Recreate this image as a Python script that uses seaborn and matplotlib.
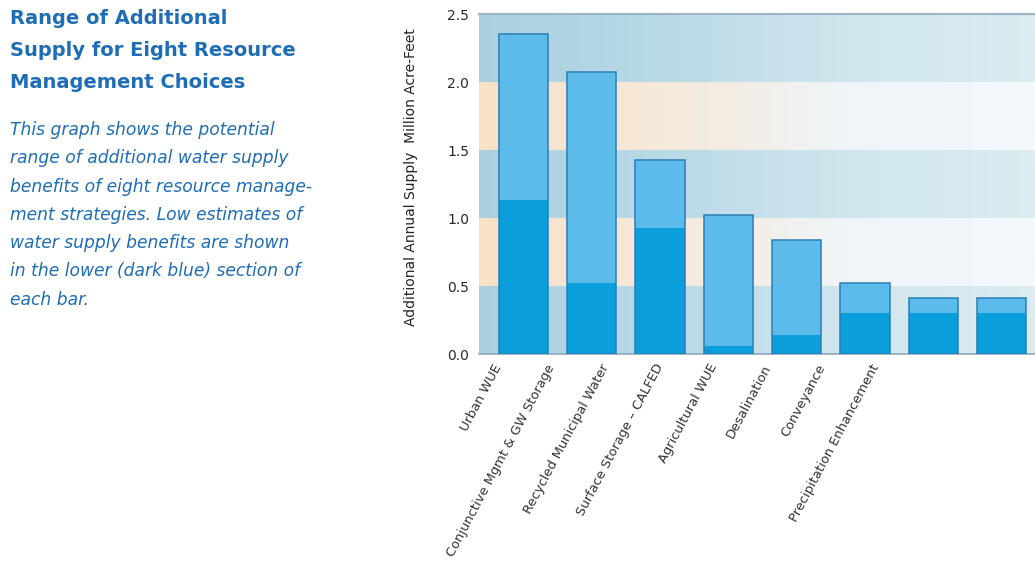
import numpy as np
import pandas as pd
import matplotlib
matplotlib.use("Agg")
import matplotlib.pyplot as plt
from matplotlib.colors import LinearSegmentedColormap
import seaborn as sns

# Resource management strategies and their supply range (million acre-feet/yr)
strategies = [
    "Urban WUE",
    "Conjunctive Mgmt & GW Storage",
    "Recycled Municipal Water",
    "Surface Storage \u2013 CALFED",
    "Agricultural WUE",
    "Desalination",
    "Conveyance",
    "Precipitation Enhancement",
]
low_estimate = [1.13, 0.52, 0.93, 0.06, 0.14, 0.30, 0.30, 0.30]
high_estimate = [2.35, 2.07, 1.43, 1.02, 0.84, 0.52, 0.41, 0.41]
y_ticks = [0.0, 0.5, 1.0, 1.5, 2.0, 2.5]

title_lines = ["Range of Additional", "Supply for Eight Resource", "Management Choices"]
body_lines = [
    "This graph shows the potential",
    "range of additional water supply",
    "benefits of eight resource manage-",
    "ment strategies. Low estimates of",
    "water supply benefits are shown",
    "in the lower (dark blue) section of",
    "each bar.",
]

df = pd.DataFrame({"strategy": strategies, "low": low_estimate, "high": high_estimate})

sns.set_theme(style="white")
plt.rcParams["font.family"] = ["DejaVu Sans"]

W, H = 1035, 567
fig = plt.figure(figsize=(W / 100, H / 100), dpi=100)
fig.patch.set_facecolor("white")

ax = fig.add_axes([479 / W, 1 - 354 / H, 1 - 479 / W, 340 / H])

XMIN, XMAX = -0.65, 7.49
YMAX = y_ticks[-1]

# Alternating horizontal bands that fade toward the right
blue_cmap = LinearSegmentedColormap.from_list(
    "blueband", ["#aad0e0", "#b9d9e6", "#d0e6ee", "#dcecf1"])
peach_cmap = LinearSegmentedColormap.from_list(
    "peachband", ["#f8e1c8", "#f6e9da", "#f0f5f8", "#f3f8fb"])
grad = np.linspace(0, 1, 256).reshape(1, -1)
for i in range(len(y_ticks) - 1):
    cmap = blue_cmap if i % 2 == 0 else peach_cmap
    ax.imshow(grad, cmap=cmap, aspect="auto", interpolation="bilinear",
              extent=[XMIN, XMAX, y_ticks[i], y_ticks[i + 1]], zorder=0)

light = "#5cbbeb"
dark = "#0a9edb"
edge = "#2b7db8"
bar_w = 0.72

sns.barplot(data=df, x="strategy", y="high", color=light, saturation=1,
            width=bar_w, linewidth=0, ax=ax, zorder=2)
sns.barplot(data=df, x="strategy", y="low", color=dark, saturation=1,
            width=bar_w, linewidth=0, ax=ax, zorder=3)
sns.barplot(data=df, x="strategy", y="high", color=edge, saturation=1,
            width=bar_w, fill=False, linewidth=1.1, ax=ax, zorder=4)

ax.set_xlim(XMIN, XMAX)
ax.set_ylim(0, YMAX)
ax.set_yticks(y_ticks)
ax.set_yticklabels([f"{v:.1f}" for v in y_ticks], fontsize=10,
                   color="#2a2a2a")
ax.tick_params(axis="y", length=0, pad=7)
ax.tick_params(axis="x", length=0)
ax.set_xticks(range(len(strategies)))
ax.set_xticklabels([])
ax.set_xlabel("")
ax.set_ylabel("Additional Annual Supply  Million Acre-Feet", fontsize=10,
              color="#222222")
ax.yaxis.set_label_coords(-0.11, 0.52)

for side in ["left", "right"]:
    ax.spines[side].set_visible(False)
ax.spines["top"].set_color("#9db4c6")
ax.spines["top"].set_linewidth(1.5)
ax.spines["bottom"].set_color("#8ea9bd")
ax.spines["bottom"].set_linewidth(1.2)

# Category labels, slanted below the baseline
for i, name in enumerate(strategies):
    ax.text(i * 0.79 - 0.37, -0.08, name, rotation=62, rotation_mode="anchor",
            ha="right", va="center", fontsize=9.4, color="#333333",
            transform=ax.transData, clip_on=False)

# Heading and description on the left
blue_text = "#1e6db5"
for k, line in enumerate(title_lines):
    fig.text(10 / W, 1 - (18 + 32 * k) / H, line, fontsize=14,
             fontweight="bold", color=blue_text, ha="left", va="center")
for k, line in enumerate(body_lines):
    fig.text(10 / W, 1 - (130 + 28.3 * k) / H, line, fontsize=12.3,
             style="italic", color=blue_text,
             ha="left", va="center")

fig.savefig("out.png", dpi=100)
